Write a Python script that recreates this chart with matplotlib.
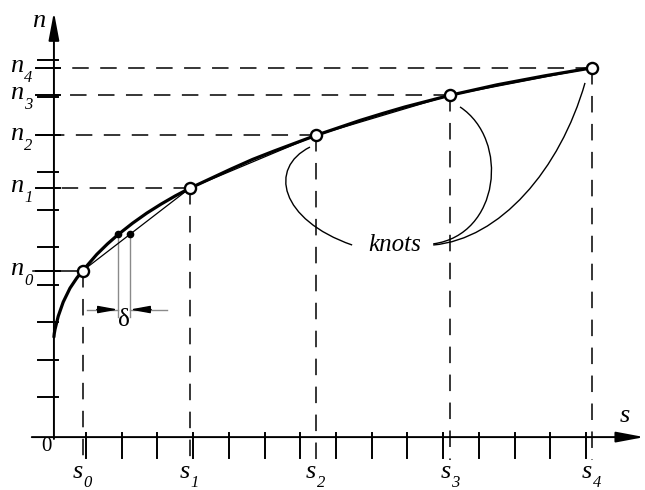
import numpy as np
import matplotlib.pyplot as plt
from matplotlib.path import Path
from matplotlib.patches import PathPatch

plt.rcParams['font.family'] = ['Liberation Serif', 'DejaVu Serif']

# knots of the chord polyline (s_k, n_k), in tick units
knot_s = [0.80, 3.80, 7.33, 11.09, 15.06]
knot_n = [4.43, 6.63, 8.04, 9.11, 9.84]
knot_names = ['0', '1', '2', '3', '4']

# the smooth curve n(s)
curve_s = [0.00, 0.01, 0.03, 0.12, 0.26, 0.45, 0.64, 0.80, 1.20, 1.50,
           1.80, 2.20, 2.60, 3.00, 3.40, 3.80, 4.97, 5.56, 6.15, 7.33,
           8.57, 9.22, 9.83, 11.09, 12.41, 13.08, 13.75, 15.06]
curve_n = [2.67, 2.76, 2.87, 3.22, 3.60, 3.97, 4.24, 4.43, 4.87, 5.15,
           5.40, 5.70, 5.97, 6.21, 6.43, 6.63, 7.15, 7.40, 7.62, 8.04,
           8.44, 8.63, 8.80, 9.11, 9.39, 9.51, 9.63, 9.84]

# axis tick marks
s_ticks = [0.9, 1.9, 2.9, 3.9, 4.9, 5.9, 6.9, 7.9, 8.9, 9.9, 10.9, 11.9, 12.9, 13.9, 14.9]
n_ticks = [1.06, 2.06, 3.06, 4.06, 5.06, 6.06, 7.06, 8.06, 9.06, 10.06]

# point on the curve used for the deviation delta
delta_s = 1.80
delta_n = 5.40

fig = plt.figure(figsize=(6.45, 4.9), dpi=100)
ax = fig.add_axes([0, 0, 1, 1])
ax.set_xlim(-1.51, 16.55)
ax.set_ylim(-1.41, 11.65)
ax.axis('off')

lab = dict(family='Liberation Serif', style='italic', color='black')
dash = dict(color='black', lw=1.1, dashes=(10.8, 7.5))

# axes with arrows
arr = dict(arrowstyle='-|>,head_length=1.7,head_width=0.32', lw=1.4, color='black',
           shrinkA=0, shrinkB=0, mutation_scale=10)
ax.annotate('', xy=(16.53, 0), xytext=(-0.62, 0), arrowprops=arr)
ax.annotate('', xy=(0, 11.33), xytext=(0, -0.05), arrowprops=arr)

for t in s_ticks:
    ax.plot([t, t], [0.1, -0.56], color='black', lw=1.4)
for t in n_ticks:
    ax.plot([-0.45, 0.11], [t, t], color='black', lw=1.4)

# guide lines from every knot to both axes
for i, (s, n) in enumerate(zip(knot_s, knot_n)):
    ax.plot([-0.5, 0.17], [n, n], color='black', lw=1.4)
    ax.plot([s, s], [n, -0.62], **dash)
    if i == 0:
        ax.plot([-0.6, s], [n, n], color='black', lw=1.1)
    else:
        ax.plot([s, 0], [n, n], **dash)

    ax.text(-1.05, n + 0.05, 'n', fontsize=19, ha='center', va='center', **lab)
    ax.text(-0.72, n - 0.27, knot_names[i], fontsize=12, ha='center', va='center', **lab)
    ax.text(s - 0.13, -0.92, 's', fontsize=19, ha='center', va='center', **lab)
    ax.text(s + 0.15, -1.22, knot_names[i], fontsize=12, ha='center', va='center', **lab)

ax.text(-0.43, 11.09, 'n', fontsize=19, ha='center', va='center', **lab)
ax.text(15.98, 0.56, 's', fontsize=19, ha='center', va='center', **lab)
ax.text(-0.2, -0.25, '0', fontsize=15, ha='center', va='center', family='Liberation Serif')

# curve and chords
ax.plot(curve_s, curve_n, color='black', lw=2.3, solid_capstyle='round',
        solid_joinstyle='round', zorder=3)
ax.plot(knot_s, knot_n, color='black', lw=0.9, zorder=3)
ax.plot(knot_s, knot_n, 'o', ms=8, mfc='white', mec='black', mew=1.7, zorder=5)

# deviation delta between curve and chord
chord_s = np.interp(delta_n, knot_n[:2], knot_s[:2])
ax.plot([delta_s, chord_s], [delta_n, delta_n], 'o', ms=4.5, color='black', zorder=6)
for s in (delta_s, chord_s):
    ax.plot([s, s], [delta_n, 3.2], color='#8a8a8a', lw=1.0)
darr = dict(arrowstyle='-|>,head_length=1.2,head_width=0.22', lw=1.0, color='black',
            shrinkA=0, shrinkB=0, mutation_scale=10)
ax.plot([0.92, delta_s], [3.4, 3.4], color='#8a8a8a', lw=1.0)
ax.plot([chord_s, 3.16], [3.4, 3.4], color='#8a8a8a', lw=1.0)
ax.annotate('', xy=(delta_s, 3.4), xytext=(delta_s - 0.6, 3.4), arrowprops=darr)
ax.annotate('', xy=(chord_s, 3.4), xytext=(chord_s + 0.6, 3.4), arrowprops=darr)
ax.text((delta_s + chord_s) / 2, 3.13, 'δ', fontsize=18, ha='center', va='center',
        family='Liberation Serif')

# "knots" label and its leader curves
ax.text(9.55, 5.13, 'knots', fontsize=18, ha='center', va='center', **lab)
leaders = [
    [(8.35, 5.12), (6.33, 5.79), (5.99, 7.17), (7.17, 7.73)],
    [(10.62, 5.15), (12.49, 5.39), (12.77, 7.92), (11.37, 8.80)],
    [(10.62, 5.12), (12.49, 5.28), (14.17, 7.12), (14.87, 9.44)],
]
for pts in leaders:
    path = Path(pts, [Path.MOVETO, Path.CURVE4, Path.CURVE4, Path.CURVE4])
    ax.add_patch(PathPatch(path, fc='none', ec='black', lw=1.0))

fig.savefig('out.png', dpi=100)
